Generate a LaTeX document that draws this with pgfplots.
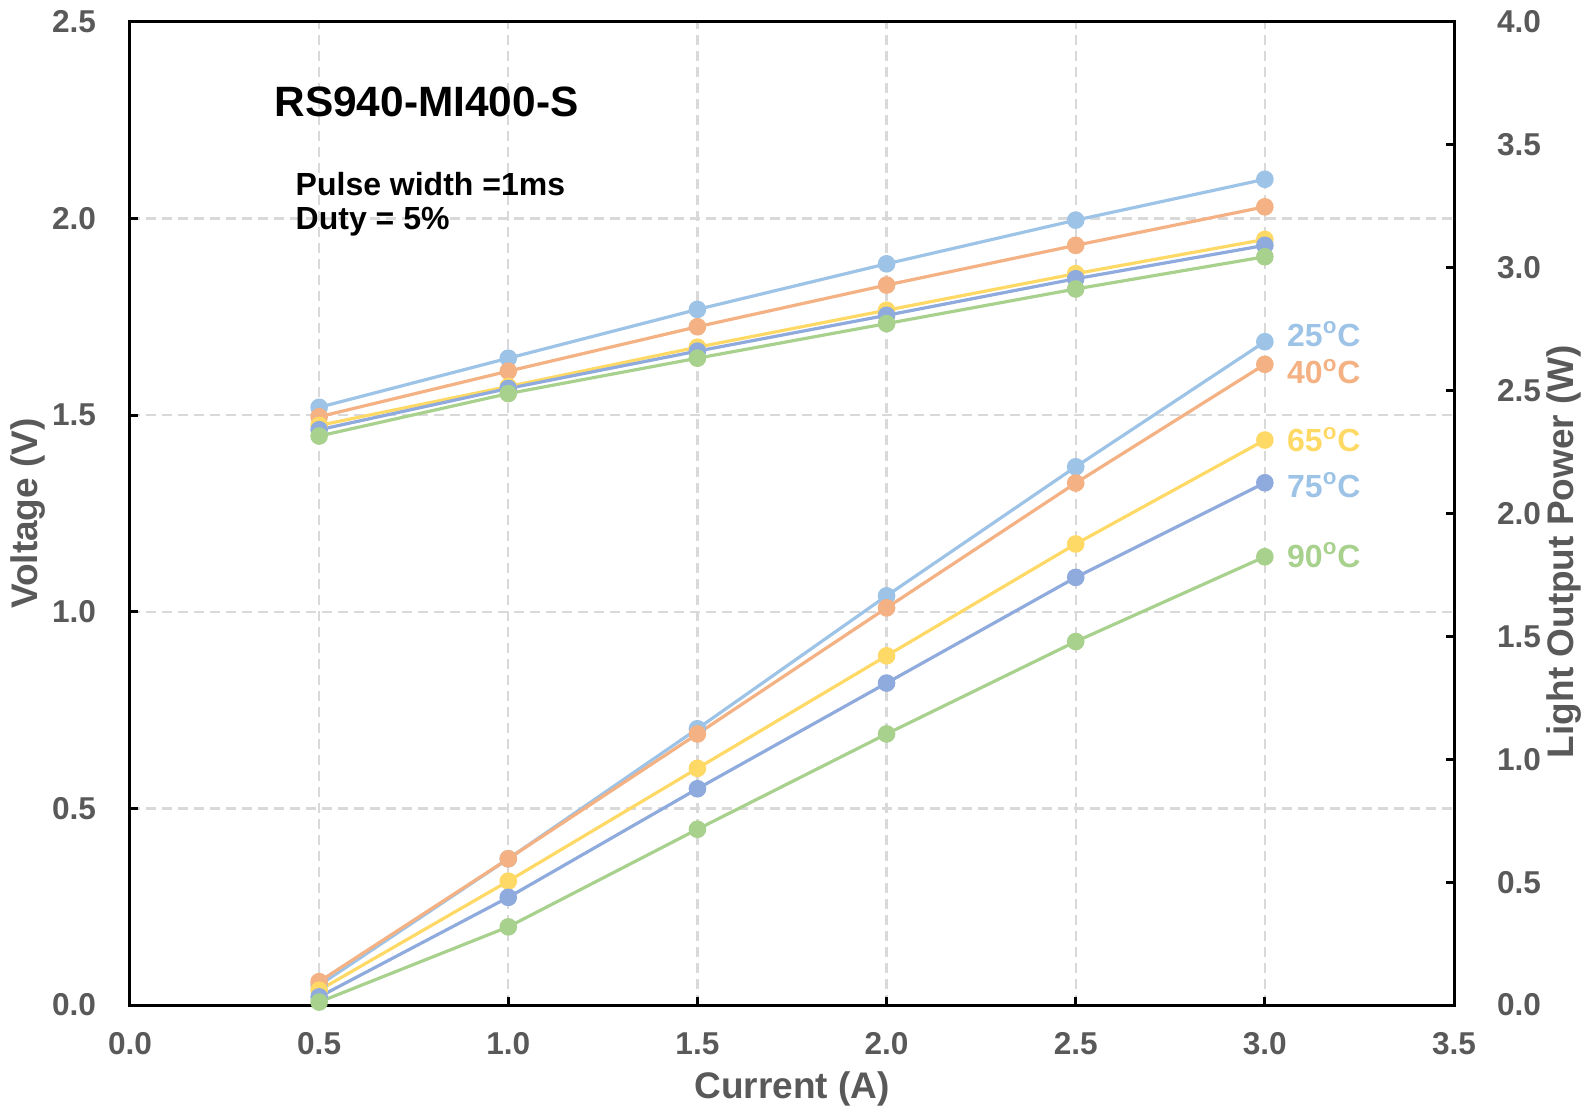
\documentclass[border=0pt]{standalone}
\usepackage{pgfplots}
\pgfplotsset{compat=1.18}
\usepackage{fontspec}
\setmainfont{Liberation Sans}
\definecolor{cA}{HTML}{9DC3E6}
\definecolor{cB}{HTML}{F4B183}
\definecolor{cC}{HTML}{FFD966}
\definecolor{cD}{HTML}{8FAADC}
\definecolor{cE}{HTML}{A9D18E}
\definecolor{tgray}{HTML}{595959}
\definecolor{ggray}{HTML}{D9D9D9}
\pgfplotsset{
  ser/.style={line width=1.6pt, color=#1, mark=*, mark size=3.6pt, mark options={solid, fill=#1, draw=#1}},
}
\begin{document}
\begin{tikzpicture}
\useasboundingbox (-65pt,-52.5pt) rectangle (731pt,502.5pt);
\begin{axis}[
  at={(0,0)}, anchor=south west, scale only axis,
  width=662pt, height=491.5pt,
  xmin=0, xmax=3.5, ymin=0, ymax=2.5,
  xtick={0,0.5,1,1.5,2,2.5,3,3.5},
  ytick={0,0.5,1,1.5,2,2.5},
  axis line style={line width=1.5pt, black},
  grid=major,
  major grid style={dash pattern=on 5pt off 3pt, line width=1.2pt, ggray},
  tick align=inside, major tick length=4pt,
  tick style={black, line width=1.5pt},
  xtick pos=bottom, ytick pos=left,
  /pgf/number format/assume math mode=true,
  /pgf/number format/.cd, fixed, fixed zerofill, precision=1, /pgfplots/.cd,
  ticklabel style={font=\fontsize{15.8}{18}\selectfont\bfseries, text=tgray},
  yticklabel style={xshift=-13.5pt},
  xticklabel style={yshift=-10.2pt},
  xlabel={Current (A)}, ylabel={Voltage (V)},
  label style={font=\fontsize{18.5}{22}\selectfont\bfseries, text=tgray},
  xlabel style={at={(axis description cs:0.5,0)}, anchor=center, yshift=-41.8pt},
  ylabel style={at={(axis description cs:0,0.5)}, anchor=center, yshift=50.75pt},
  clip=false,
]
\addplot[ser=cA] coordinates {(0.5,1.520) (1.0,1.645) (1.5,1.769) (2.0,1.885) (2.5,1.996) (3.0,2.100)};
\addplot[ser=cB] coordinates {(0.5,1.496) (1.0,1.612) (1.5,1.725) (2.0,1.831) (2.5,1.932) (3.0,2.030)};
\addplot[ser=cC] coordinates {(0.5,1.474) (1.0,1.573) (1.5,1.673) (2.0,1.767) (2.5,1.860) (3.0,1.947)};
\addplot[ser=cD] coordinates {(0.5,1.463) (1.0,1.568) (1.5,1.663) (2.0,1.754) (2.5,1.847) (3.0,1.932)};
\addplot[ser=cE] coordinates {(0.5,1.447) (1.0,1.555) (1.5,1.645) (2.0,1.733) (2.5,1.821) (3.0,1.903)};
\node[anchor=west, font=\fontsize{21.2}{25}\selectfont\bfseries, inner sep=0pt] at (axis cs:0.381,2.298) {RS940-MI400-S};
\node[anchor=west, font=\fontsize{16}{19}\selectfont\bfseries, inner sep=0pt] at (axis cs:0.437,2.088) {Pulse width =1ms};
\node[anchor=west, font=\fontsize{16}{19}\selectfont\bfseries, inner sep=0pt] at (axis cs:0.437,1.993) {Duty = 5\%};
\end{axis}
\begin{axis}[
  at={(0,0)}, anchor=south west, scale only axis,
  width=662pt, height=491.5pt,
  xmin=0, xmax=3.5, ymin=0, ymax=4,
  axis x line=none, axis y line*=right,
  ytick={0,0.5,1,1.5,2,2.5,3,3.5,4},
  axis line style={line width=1.5pt, black},
  tick align=inside, major tick length=4pt,
  tick style={black, line width=1.5pt},
  /pgf/number format/assume math mode=true,
  /pgf/number format/.cd, fixed, fixed zerofill, precision=1, /pgfplots/.cd,
  ticklabel style={font=\fontsize{15.8}{18}\selectfont\bfseries, text=tgray},
  yticklabel style={xshift=18pt},
  ylabel={Light Output Power (W)},
  label style={font=\fontsize{18.5}{22}\selectfont\bfseries, text=tgray},
  ylabel style={at={(axis description cs:1,0.5)}, anchor=center, yshift=-55pt, xshift=-19pt},
  clip=false,
]
\addplot[ser=cA] coordinates {(0.5,0.080) (1.0,0.595) (1.5,1.124) (2.0,1.665) (2.5,2.190) (3.0,2.699)};
\addplot[ser=cB] coordinates {(0.5,0.095) (1.0,0.595) (1.5,1.103) (2.0,1.616) (2.5,2.124) (3.0,2.607)};
\addplot[ser=cC] coordinates {(0.5,0.060) (1.0,0.504) (1.5,0.963) (2.0,1.421) (2.5,1.876) (3.0,2.299)};
\addplot[ser=cD] coordinates {(0.5,0.033) (1.0,0.438) (1.5,0.880) (2.0,1.310) (2.5,1.740) (3.0,2.125)};
\addplot[ser=cE] coordinates {(0.5,0.012) (1.0,0.318) (1.5,0.715) (2.0,1.103) (2.5,1.479) (3.0,1.824)};
\tikzset{tl/.style={anchor=west, inner sep=0pt, font=\fontsize{16}{19}\selectfont\bfseries}}
\node[tl, text=cA] at (axis cs:3.058,2.730) {25\textsuperscript{o}C};
\node[tl, text=cB] at (axis cs:3.058,2.578) {40\textsuperscript{o}C};
\node[tl, text=cC] at (axis cs:3.058,2.301) {65\textsuperscript{o}C};
\node[tl, text=cA] at (axis cs:3.058,2.115) {75\textsuperscript{o}C};
\node[tl, text=cE] at (axis cs:3.058,1.830) {90\textsuperscript{o}C};
\end{axis}
\end{tikzpicture}
\end{document}
